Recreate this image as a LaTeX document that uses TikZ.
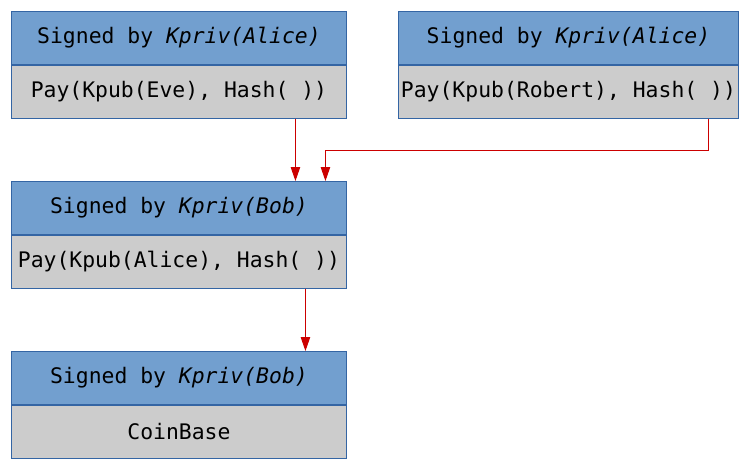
\documentclass[tikz,border=0pt]{standalone}
\usepackage{fontspec}
\setmonofont{DejaVu Sans Mono}
\usetikzlibrary{arrows.meta,positioning}
\definecolor{boxedge}{HTML}{3465A4}
\definecolor{headfill}{HTML}{729FCF}
\definecolor{bodyfill}{HTML}{CCCCCC}
\definecolor{linkred}{HTML}{CC0000}
\newcommand{\boxfont}{\ttfamily\fontsize{21.4}{25}\selectfont}
\tikzset{
  sighead/.style={
    draw=boxedge,
    line width=0.9pt,
    fill=headfill,
    minimum width=335pt,
    minimum height=53pt,
    inner sep=0pt,
    font=\boxfont
  },
  paybody/.style={sighead, fill=bodyfill},
  payedge/.style={draw=linkred, line width=0.9pt, -{Triangle[length=14pt,width=9.5pt]}}
}

\begin{document}
\begin{tikzpicture}[x=1pt,y=-1pt]
\path[use as bounding box] (0,0) rectangle (754,467);

\node[sighead, anchor=north west] (eveSig) at (11,11) {Signed by \textit{Kpriv(Alice)}};
\node[paybody, below=0pt of eveSig] (evePay) {Pay(Kpub(Eve), Hash( ))};

\node[sighead, anchor=north west, minimum width=340pt] (robertSig) at (398,11) {Signed by \textit{Kpriv(Alice)}};
\node[paybody, below=0pt of robertSig, minimum width=340pt] (robertPay) {Pay(Kpub(Robert), Hash( ))};

\node[sighead, anchor=north west] (bobSig) at (11,181) {Signed by \textit{Kpriv(Bob)}};
\node[paybody, below=0pt of bobSig] (bobPay) {Pay(Kpub(Alice), Hash( ))};

\node[sighead, anchor=north west] (baseSig) at (11,351) {Signed by \textit{Kpriv(Bob)}};
\node[paybody, below=0pt of baseSig] (basePay) {CoinBase};

\draw[payedge] ([xshift=116.5pt]evePay.south) -- ([xshift=116.5pt]bobSig.north);
\draw[payedge] ([xshift=140pt]robertPay.south) -- ++(0,32) -| ([xshift=146.5pt]bobSig.north);
\draw[payedge] ([xshift=126.5pt]bobPay.south) -- ([xshift=126.5pt]baseSig.north);

\end{tikzpicture}
\end{document}
